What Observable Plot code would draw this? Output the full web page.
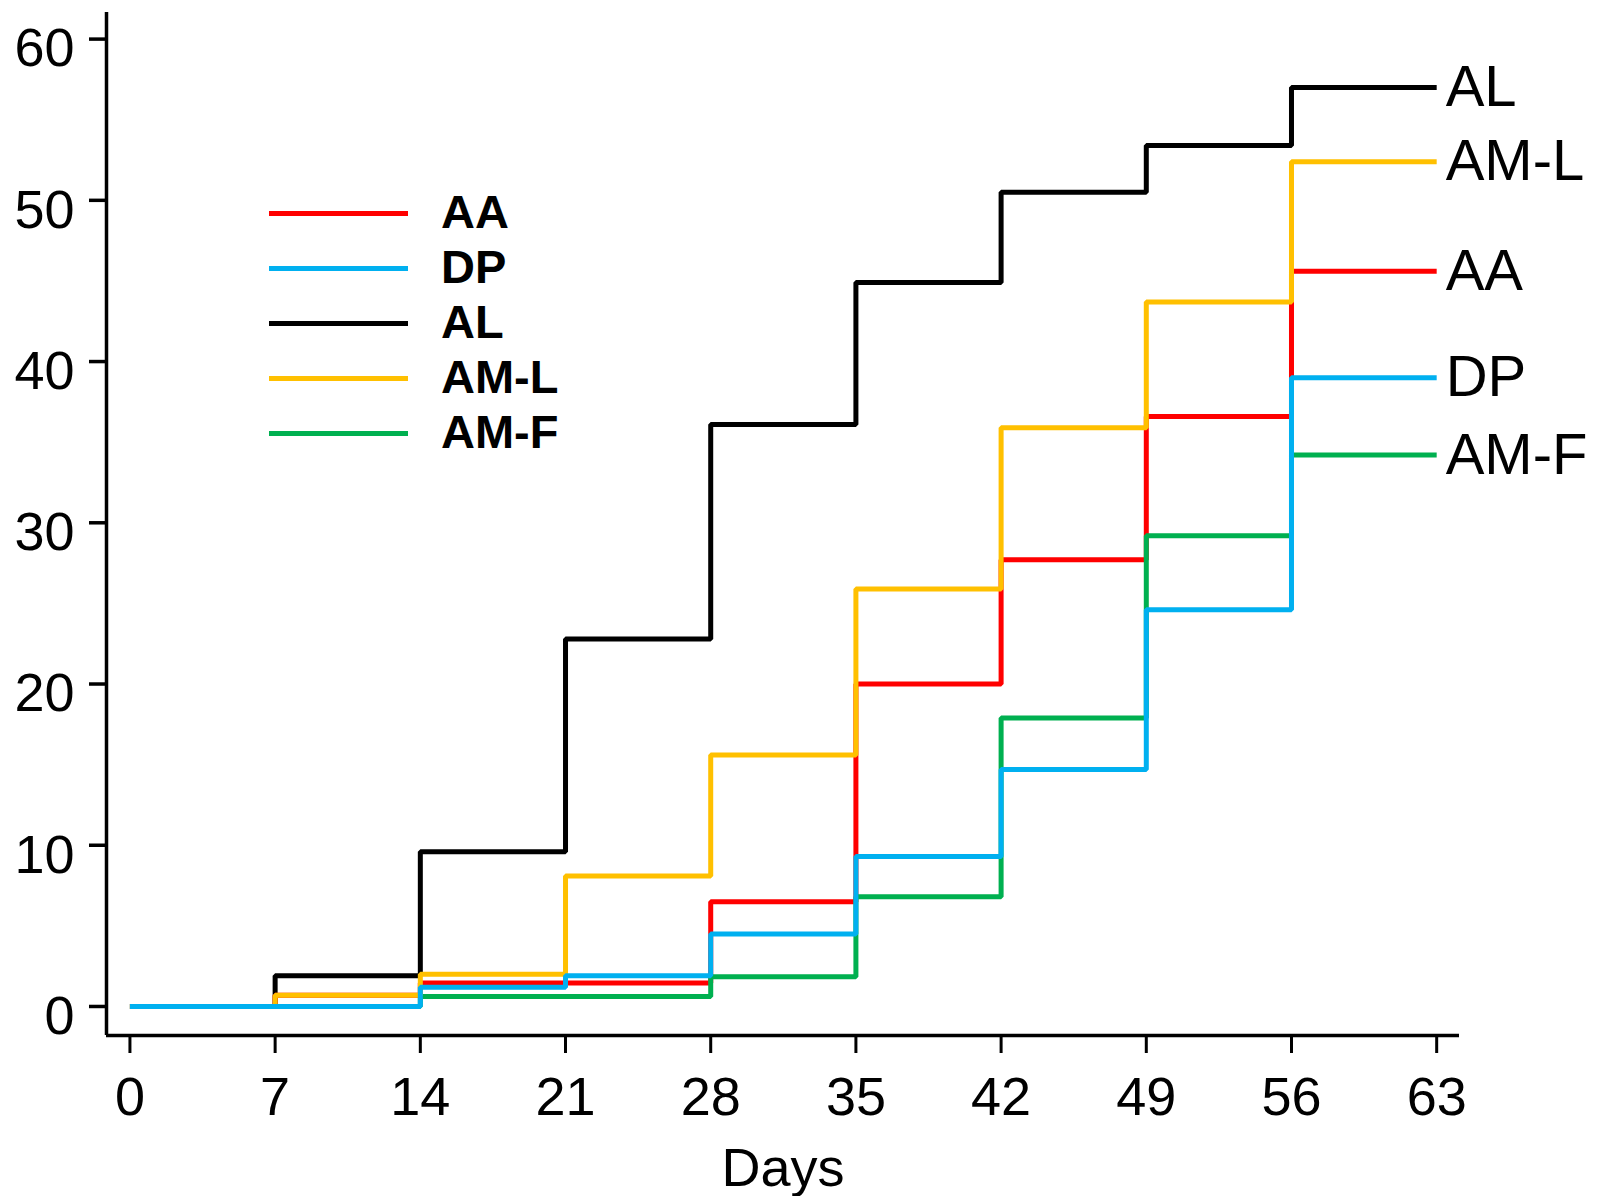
<!DOCTYPE html>
<html>
<head>
<meta charset="utf-8">
<script src="https://cdn.jsdelivr.net/npm/d3@7"></script>
<script src="https://cdn.jsdelivr.net/npm/@observablehq/plot@0.6"></script>
<style>
  html, body { margin: 0; padding: 0; background: #ffffff; }
  #wrap { position: relative; width: 1598px; height: 1196px; font-family: "Liberation Sans", Arial, sans-serif; }
  #legend { position: absolute; left: 269px; top: 186px; }
  .row { display: flex; align-items: center; height: 55px; }
  .swatch { width: 139px; height: 4.5px; margin-right: 33px; }
  .lab { font-weight: bold; font-size: 47px; line-height: 55px; color: #000; margin-top: -4px; }
</style>
</head>
<body>
<div id="wrap"><div id="chart"></div><div id="legend"></div></div>
<script>
// ---- data ----
const days = [0, 7, 14, 21, 28, 35, 42, 49, 56, 63];
const seriesNames = ["AA", "DP", "AL", "AM-L", "AM-F"];
const seriesColors = ["#ff0000", "#00b0f0", "#000000", "#ffc000", "#00b050"];
// cumulative values from each day onward (last value repeated at day 63)
const valuesAA  = [0, 0.7, 1.45, 1.45, 6.5, 20.0, 27.7, 36.6, 45.6, 45.6];
const valuesDP  = [0, 0, 1.2, 1.9, 4.5, 9.3, 14.7, 24.6, 39.0, 39.0];
const valuesAL  = [0, 1.9, 9.6, 22.8, 36.1, 44.9, 50.5, 53.4, 57.0, 57.0];
const valuesAML = [0, 0.7, 2.0, 8.1, 15.6, 25.9, 35.9, 43.7, 52.4, 52.4];
const valuesAMF = [0, 0, 0.62, 0.62, 1.85, 6.8, 17.9, 29.2, 34.2, 34.2];
const yTicks = [0, 10, 20, 30, 40, 50, 60];
const xTicks = [0, 7, 14, 21, 28, 35, 42, 49, 56, 63];
const xDomain = [-1.13, 64.1];
const yDomain = [-1.8, 61.65];

const valuesByName = {"AA": valuesAA, "DP": valuesDP, "AL": valuesAL, "AM-L": valuesAML, "AM-F": valuesAMF};
// drawing order (bottom to top) as seen in the reference
const drawOrder = ["AL", "AA", "AM-F", "AM-L", "DP"];
const table = [];
for (const name of drawOrder) {
  valuesByName[name].forEach((v, i) => table.push({series: name, day: days[i], value: v}));
}
const endLabels = seriesNames.map(name => ({series: name, day: days[days.length - 1], value: valuesByName[name][days.length - 1]}));

const font = "Liberation Sans, Arial, sans-serif";
const chart = Plot.plot({
  width: 1598,
  height: 1196,
  marginLeft: 106,
  marginRight: 139,
  marginTop: 12,
  marginBottom: 161,
  style: {fontFamily: font, background: "#ffffff", color: "#000", overflow: "visible"},
  x: {domain: xDomain},
  y: {domain: yDomain},
  color: {domain: seriesNames, range: seriesColors},
  marks: [
    Plot.ruleX([xDomain[0]], {stroke: "#000", strokeWidth: 3.5}),
    Plot.ruleY([yDomain[0]], {stroke: "#000", strokeWidth: 3.5}),
    Plot.axisY(yTicks, {tickSize: 17, strokeWidth: 3.5, tickFormat: () => "", label: null}),
    Plot.text(yTicks, {frameAnchor: "left", y: d => d, text: d => String(d), textAnchor: "end", dx: -32, dy: 10, fontSize: 54, fill: "#000"}),
    Plot.axisX(xTicks, {tickSize: 18, tickPadding: 23, fontSize: 54, strokeWidth: 3, tickFormat: d => String(d), label: null, fill: "#000"}),
    Plot.text(["Days"], {frameAnchor: "bottom", dy: 150, fontSize: 54, fill: "#000", lineAnchor: "bottom"}),
    Plot.line(table, {x: "day", y: "value", z: "series", stroke: "series", curve: "step-after", strokeWidth: 5, strokeLinejoin: "miter", strokeLinecap: "butt"}),
    Plot.text(endLabels, {x: "day", y: "value", text: "series", textAnchor: "start", dx: 9, fontSize: 58, fill: "#000"})
  ]
});
document.getElementById("chart").appendChild(chart);

// legend
const legend = document.getElementById("legend");
seriesNames.forEach((name, i) => {
  const row = document.createElement("div");
  row.className = "row";
  const sw = document.createElement("div");
  sw.className = "swatch";
  sw.style.background = seriesColors[i];
  const lab = document.createElement("div");
  lab.className = "lab";
  lab.textContent = name;
  row.appendChild(sw);
  row.appendChild(lab);
  legend.appendChild(row);
});
</script>
</body>
</html>
